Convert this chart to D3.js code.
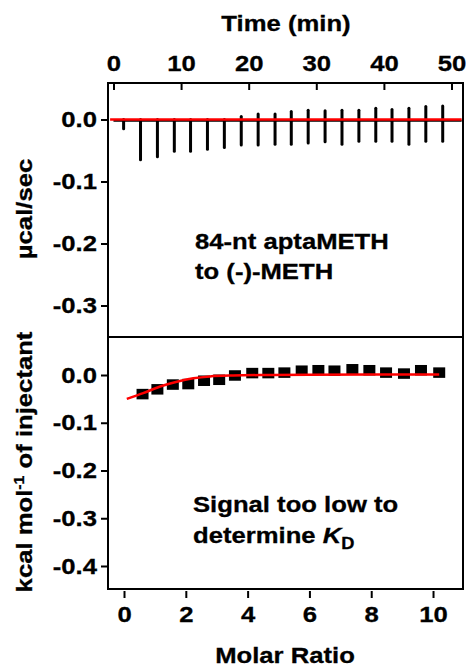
<!DOCTYPE html>
<html>
<head>
<meta charset="utf-8">
<script src="https://cdn.jsdelivr.net/npm/d3@7"></script>
<style>
body{margin:0;background:#fff;}
svg text{font-family:"Liberation Sans",Arial,sans-serif;font-weight:bold;fill:#000;stroke:#000;stroke-width:0.3px;}
</style>
</head>
<body>
<div id="chart"></div>
<script>
// thermogram: injection times (min) and peak extents (ucal/sec)
var injTime=[1.5,4.0,6.5,9.0,11.4,13.9,16.4,18.9,21.4,23.9,26.3,28.8,31.3,33.8,36.3,38.8,41.2,43.7,46.2,48.7];
var peakMin=[-0.015,-0.065,-0.060,-0.051,-0.051,-0.048,-0.045,-0.041,-0.041,-0.040,-0.040,-0.038,-0.036,-0.040,-0.035,-0.035,-0.035,-0.040,-0.035,-0.035];
var peakMax=[0,0,0,0,0,0,0,0.005,0.009,0.009,0.013,0.015,0.014,0.015,0.015,0.018,0.016,0.018,0.021,0.022];

// integrated heats (kcal/mol of injectant)
var molarRatio=[0.60,1.08,1.58,2.08,2.59,3.08,3.59,4.15,4.67,5.19,5.75,6.29,6.81,7.39,7.94,8.48,9.06,9.61,10.2];
var heat=[-0.040,-0.030,-0.020,-0.019,-0.012,-0.010,-0.001,0.004,0.004,0.005,0.009,0.010,0.009,0.012,0.010,0.005,0.003,0.010,0.005];

// fitted curve
var fitRatio=[0.09,0.62,1.17,1.71,2.24,2.78,3.53,4.62,6,8,10.2];
var fitHeat=[-0.050,-0.038,-0.024,-0.014,-0.007,-0.003,-0.001,0,0.0005,0.001,0.001];

// ticks
var timeTicks=[0,10,20,30,40,50];
var ratioTicks=[0,2,4,6,8,10];
var topYTicks=[0,-0.1,-0.2,-0.3];
var botYTicks=[0,-0.1,-0.2,-0.3,-0.4];

var svgWidth=467, svgHeight=668;
var left=108, right=463, top1=83, mid=337, bot=589;
var fs=22.5;
var stretch=1.14; //glyphs in the figure are a bit wider than plain Arial

var svg=d3.select("#chart").append("svg")
    .attr("width",svgWidth)
    .attr("height",svgHeight);

//scales
var xTime=d3.scaleLinear().domain([-0.81,51.7]).range([left,right]);
var yTop=d3.scaleLinear().domain([0.0589,-0.3508]).range([top1,mid]);
var xRatio=d3.scaleLinear().domain([-0.518,10.97]).range([left,right]);
var yBot=d3.scaleLinear().domain([0.0796,-0.4482]).range([mid,bot]);

function fmt(d){ return Math.abs(d)<1e-9 ? "0.0" : d.toFixed(1); }

// top time axis, ticks pointing into the plot
var tAxis=svg.append("g")
    .attr("transform",`translate(0,${top1})`)
    .call(d3.axisTop(xTime).tickValues(timeTicks).tickSizeInner(-7).tickSizeOuter(0).tickPadding(18));
tAxis.select(".domain").remove();
tAxis.selectAll("text").attr("y",-12);

// y axes
var ylTop=svg.append("g")
    .attr("transform",`translate(${left},0)`)
    .call(d3.axisLeft(yTop).tickValues(topYTicks).tickFormat(fmt).tickSizeInner(7).tickSizeOuter(0).tickPadding(4));
ylTop.select(".domain").remove();

var ylBot=svg.append("g")
    .attr("transform",`translate(${left},0)`)
    .call(d3.axisLeft(yBot).tickValues(botYTicks).tickFormat(fmt).tickSizeInner(7).tickSizeOuter(0).tickPadding(4));
ylBot.select(".domain").remove();

// bottom ratio axis
var xb=svg.append("g")
    .attr("transform",`translate(0,${bot+2})`)
    .call(d3.axisBottom(xRatio).tickValues(ratioTicks).tickFormat(d3.format("d")).tickSizeInner(7).tickSizeOuter(0).tickPadding(8));
xb.select(".domain").remove();

svg.selectAll(".tick line").attr("stroke","#000").attr("stroke-width",2);
svg.selectAll(".tick text").style("font-size",fs+"px");

// frame
svg.append("rect")
    .attr("x",left).attr("y",top1)
    .attr("width",right-left).attr("height",bot-top1)
    .attr("fill","none").attr("stroke","#000").attr("stroke-width",2);
svg.append("line")
    .attr("x1",left).attr("x2",right)
    .attr("y1",mid).attr("y2",mid)
    .attr("stroke","#000").attr("stroke-width",2);

// thermogram
var topG=svg.append("g");
topG.append("line")
    .attr("x1",xTime(0)).attr("x2",xTime(51.5))
    .attr("y1",yTop(-0.002)).attr("y2",yTop(-0.002))
    .attr("stroke","#000").attr("stroke-width",2);
topG.selectAll(".spike")
    .data(injTime)
    .enter()
    .append("line")
    .attr("class","spike")
    .attr("x1",d=>xTime(d)).attr("x2",d=>xTime(d))
    .attr("y1",(d,i)=>yTop(peakMax[i]))
    .attr("y2",(d,i)=>yTop(peakMin[i]))
    .attr("stroke","#000").attr("stroke-width",3).attr("stroke-linecap","round");
topG.append("line")
    .attr("x1",xTime(-0.5)).attr("x2",xTime(51.5))
    .attr("y1",yTop(0)).attr("y2",yTop(0))
    .attr("stroke","#ff0000").attr("stroke-width",2.5);

// integrated heats
var botG=svg.append("g");
var sqW=12, sqH=10.5;
botG.selectAll("rect")
    .data(molarRatio)
    .enter()
    .append("rect")
    .attr("x",d=>xRatio(d)-sqW/2)
    .attr("y",(d,i)=>yBot(heat[i])-sqH/2)
    .attr("width",sqW).attr("height",sqH)
    .attr("fill","#000");

var fitLine=d3.line()
    .x(d=>xRatio(d))
    .y((d,i)=>yBot(fitHeat[i]))
    .curve(d3.curveMonotoneX);
botG.append("path")
    .attr("d",fitLine(fitRatio))
    .attr("fill","none").attr("stroke","#ff0000").attr("stroke-width",2.5);

// titles
svg.append("text")
    .attr("x",286).attr("y",31)
    .attr("text-anchor","middle")
    .style("font-size",fs+"px")
    .text("Time (min)");
svg.append("text")
    .attr("x",285).attr("y",663)
    .attr("text-anchor","middle")
    .style("font-size",fs+"px")
    .text("Molar Ratio");
svg.append("text")
    .attr("transform","translate(32,209) rotate(-90)")
    .attr("text-anchor","middle")
    .style("font-size",fs+"px")
    .text("µcal/sec");
var yl=svg.append("text")
    .attr("transform","translate(32,462) rotate(-90)")
    .attr("text-anchor","middle")
    .style("font-size",fs+"px");
yl.append("tspan").text("kcal mol");
yl.append("tspan").attr("dy",-8).style("font-size","14px").text("-1");
yl.append("tspan").attr("dy",8).text(" of injectant");

// annotations
svg.append("text").attr("x",195).attr("y",249).style("font-size",fs+"px").text("84-nt aptaMETH");
svg.append("text").attr("x",195).attr("y",279).style("font-size",fs+"px").text("to (-)-METH");
svg.append("text").attr("x",193).attr("y",512).style("font-size",fs+"px").text("Signal too low to");
var kd=svg.append("text").attr("x",193).attr("y",543).style("font-size",fs+"px");
kd.append("tspan").text("determine ");
kd.append("tspan").style("font-style","italic").text("K");
kd.append("tspan").attr("dy",6).style("font-size","16px").text("D");

// widen every label a little
svg.selectAll("text").each(function(){
    var len=this.getComputedTextLength();
    d3.select(this).attr("textLength",len*stretch).attr("lengthAdjust","spacingAndGlyphs");
});
</script>
</body>
</html>
